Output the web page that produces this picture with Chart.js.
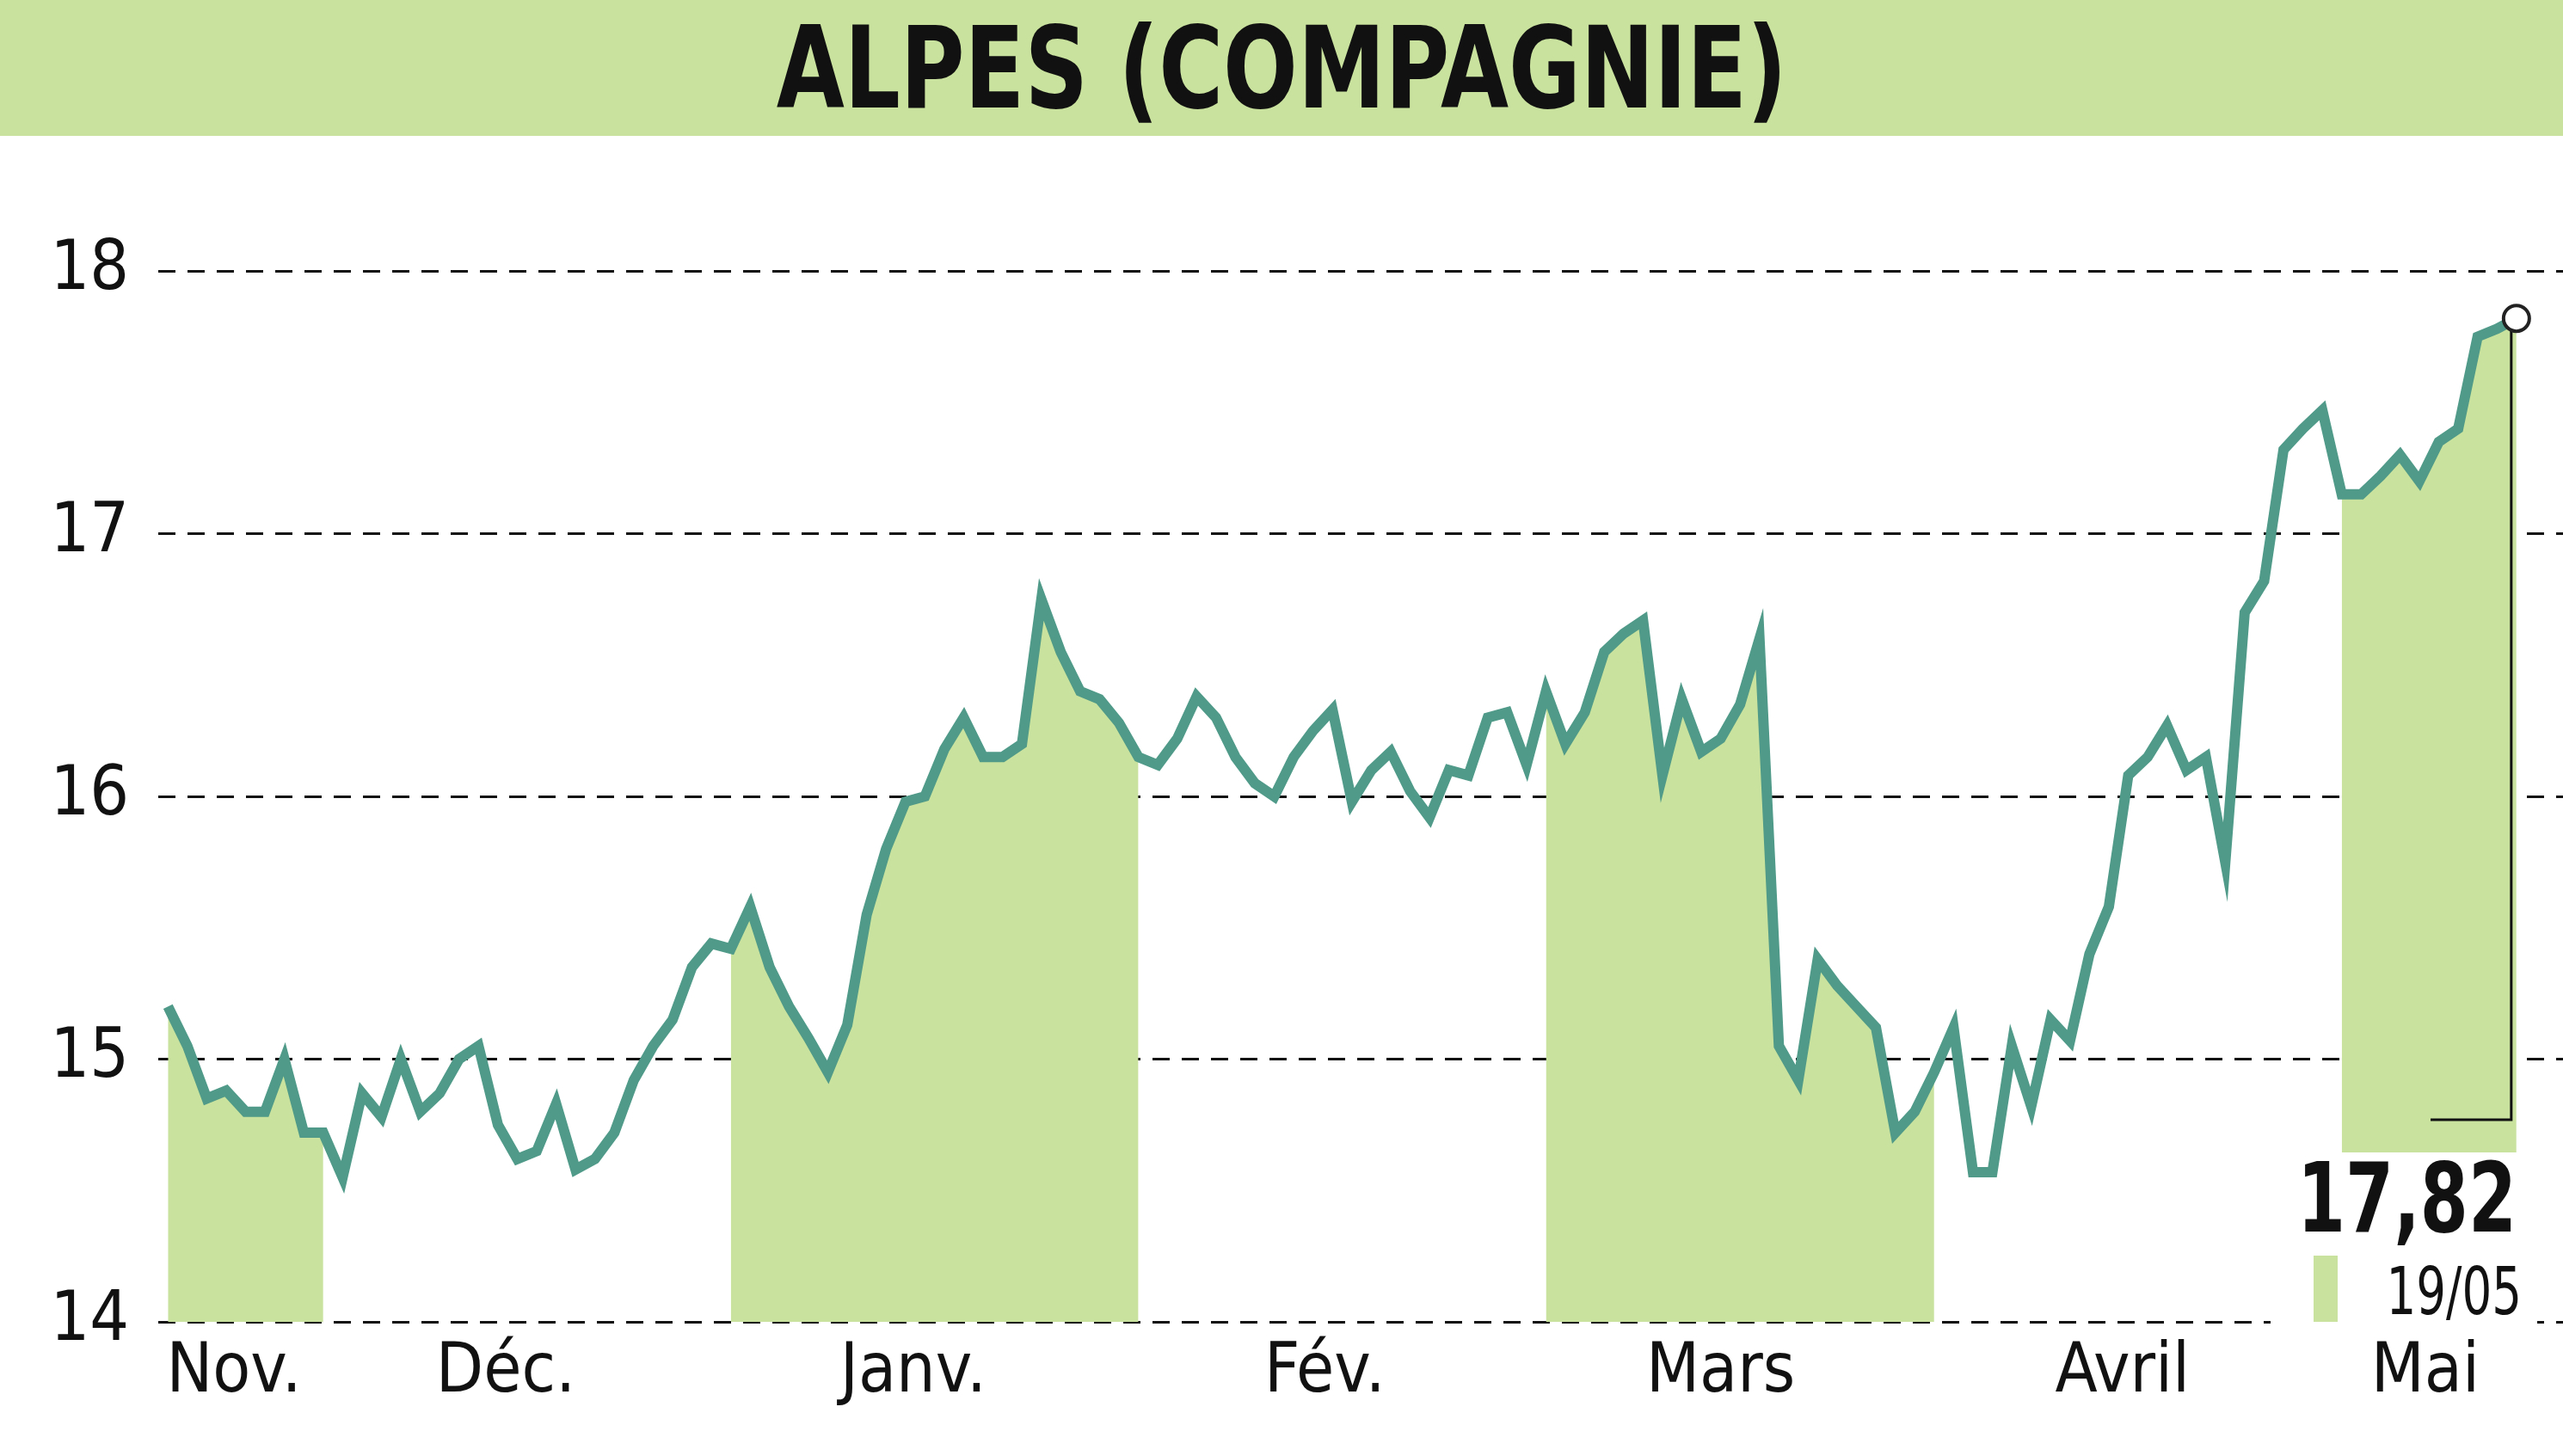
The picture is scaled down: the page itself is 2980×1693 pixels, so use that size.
<!DOCTYPE html>
<html><head><meta charset="utf-8">
<script src="https://cdn.jsdelivr.net/npm/chart.js@4"></script>
<style>
html,body{margin:0;padding:0;background:#fff;width:2980px;height:1693px;overflow:hidden}
#title{position:absolute;left:0;top:0;width:2980px;height:158px;background:#c9e29d;text-align:center;
font-family:"DejaVu Sans Condensed","DejaVu Sans";font-weight:bold;font-size:132px;line-height:158px;color:#111}
#wrap{position:absolute;left:0;top:0;width:2980px;height:1693px}
</style></head><body>
<div id="wrap"><canvas id="c" width="2980" height="1693"></canvas></div>
<div id="title"><span style="display:inline-block;transform:scaleX(0.86)">ALPES (COMPAGNIE)</span></div>
<script>
const prices=[15.2,15.05,14.85,14.88,14.8,14.8,15.0,14.72,14.72,14.55,14.87,14.78,15.0,14.8,14.87,15.0,15.05,14.75,14.62,14.65,14.83,14.58,14.62,14.72,14.92,15.05,15.15,15.35,15.44,15.42,15.58,15.35,15.2,15.08,14.95,15.13,15.55,15.8,15.98,16.0,16.18,16.3,16.15,16.15,16.2,16.75,16.55,16.4,16.37,16.28,16.15,16.12,16.22,16.38,16.3,16.15,16.05,16.0,16.15,16.25,16.33,15.98,16.1,16.17,16.02,15.92,16.1,16.08,16.3,16.32,16.12,16.4,16.2,16.32,16.55,16.62,16.67,16.08,16.37,16.17,16.22,16.35,16.6,15.05,14.92,15.38,15.28,15.2,15.12,14.72,14.8,14.95,15.12,14.57,14.57,15.05,14.82,15.15,15.07,15.4,15.58,16.08,16.15,16.27,16.1,16.15,15.75,16.7,16.82,17.32,17.4,17.47,17.15,17.15,17.22,17.3,17.2,17.35,17.4,17.75,17.78,17.82];
const bands=[[0,8],[29,50],[71,91],[112,123]];
const monthLabels=["Nov.","Déc.","Janv.","Fév.","Mars","Avril","Mai"];
const monthPos=[3.4,17.4,38.4,59.6,80,100.7,116.3];
const yTicks=[14,15,16,17,18];
const lastLabel="17,82", lastDate="19/05";

const lineData=prices.map((v,i)=>({x:i,y:v}));
const fillData=prices.map((v,i)=>({x:i,y:bands.some(b=>i>=b[0]&&i<=b[1])?v:null}));
const FONT='"DejaVu Sans Condensed","DejaVu Sans"';

const endPlugin={id:'endp',afterDatasetsDraw(ch){
  const c=ch.ctx,xs=ch.scales.x,ys=ch.scales.y;
  const n=prices.length-1,px=xs.getPixelForValue(n),py=ys.getPixelForValue(prices[n]);
  c.save();
  c.fillStyle='#fff';c.fillRect(2640,1340,310,200);
  c.strokeStyle='#111';c.lineWidth=3;
  c.beginPath();c.moveTo(px-6,py);c.lineTo(px-6,1302);c.lineTo(2826,1302);c.stroke();
  c.fillStyle='#c9e29d';c.fillRect(2690,1460,28,77);
  c.fillStyle='#111';c.textAlign='right';c.textBaseline='alphabetic';
  c.save();c.translate(2926,1432);c.scale(0.8,1);c.font='bold 112px '+FONT;c.fillText(lastLabel,0,0);c.restore();
  c.save();c.translate(2932,1528);c.scale(0.8,1);c.font='76px '+FONT;c.fillText(lastDate,0,0);c.restore();
  c.beginPath();c.arc(px,py,15,0,Math.PI*2);c.fillStyle='#fff';c.fill();c.lineWidth=4;c.strokeStyle='#222';c.stroke();
  c.restore();
}};

new Chart(document.getElementById('c'),{
  type:'line',
  data:{datasets:[
    {data:lineData,borderColor:'#4f9a88',borderWidth:12,pointRadius:0,tension:0,fill:false,order:0},
    {data:fillData,borderWidth:0,borderColor:'rgba(0,0,0,0)',backgroundColor:'#c9e29d',pointRadius:0,fill:'start',spanGaps:false,order:1}
  ]},
  options:{responsive:false,animation:false,
    layout:{padding:{top:193,right:0,left:0,bottom:0}},
    plugins:{legend:{display:false},tooltip:{enabled:false}},
    scales:{
      x:{type:'linear',min:-0.5,max:123.4,
        afterBuildTicks:s=>{s.ticks=monthPos.map(v=>({value:v}))},
        afterFit:s=>{s.height=156},
        ticks:{autoSkip:false,maxRotation:0,color:'#111',font:{family:FONT,size:80},padding:4,
          callback:(v,i)=>monthLabels[i]},
        grid:{display:false},border:{display:false}},
      y:{min:14,max:18.4,
        afterBuildTicks:s=>{s.ticks=yTicks.map(v=>({value:v}))},
        afterFit:s=>{s.width=184},
        ticks:{color:'#111',font:{family:FONT,size:80},padding:34},
        grid:{color:'#111',lineWidth:3,drawTicks:false},
        border:{display:false,dash:[20,14]}}
    }
  },
  plugins:[endPlugin]
});
</script></body></html>
